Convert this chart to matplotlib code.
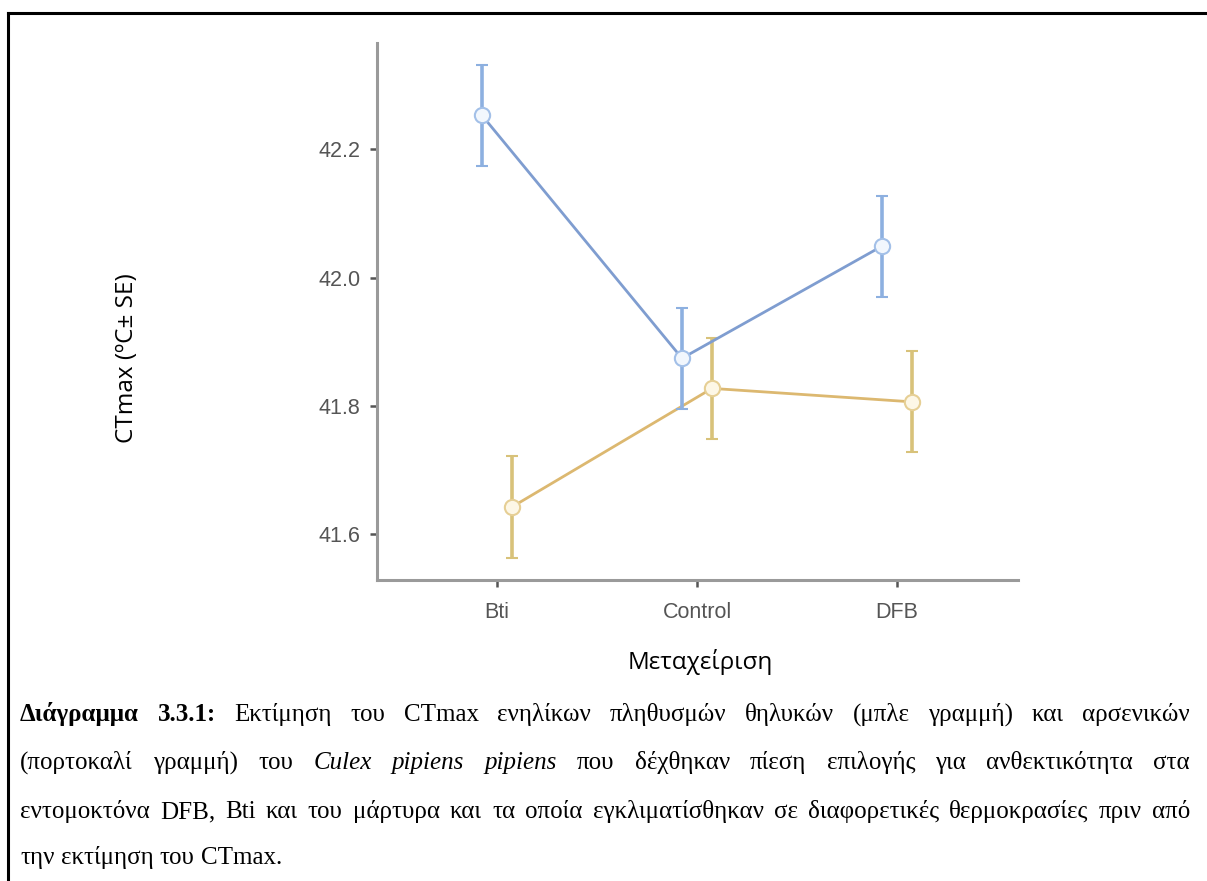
import matplotlib
matplotlib.use("Agg")
import matplotlib.pyplot as plt
import numpy as np

# Treatment groups and CTmax estimates (mean ± SE)
treatments = ["Bti", "Control", "DFB"]
female_mean = [42.253, 41.874, 42.049]
female_se = [0.079, 0.079, 0.079]
male_mean = [41.642, 41.827, 41.806]
male_se = [0.079, 0.079, 0.079]
y_ticks = [41.6, 41.8, 42.0, 42.2]

caption_lines = [
    [("Διάγραμμα", "bold"), ("3.3.1:", "bold"), ("Εκτίμηση", ""), ("του", ""), ("CTmax", ""),
     ("ενηλίκων", ""), ("πληθυσμών", ""), ("θηλυκών", ""), ("(μπλε", ""), ("γραμμή)", ""),
     ("και", ""), ("αρσενικών", "")],
    [("(πορτοκαλί", ""), ("γραμμή)", ""), ("του", ""), ("Culex", "italic"), ("pipiens", "italic"),
     ("pipiens", "italic"), ("που", ""), ("δέχθηκαν", ""), ("πίεση", ""), ("επιλογής", ""),
     ("για", ""), ("ανθεκτικότητα", ""), ("στα", "")],
    [("εντομοκτόνα", ""), ("DFB,", ""), ("Bti", ""), ("και", ""), ("του", ""), ("μάρτυρα", ""),
     ("και", ""), ("τα", ""), ("οποία", ""), ("εγκλιματίσθηκαν", ""), ("σε", ""),
     ("διαφορετικές", ""), ("θερμοκρασίες", ""), ("πριν", ""), ("από", "")],
    [("την", ""), ("εκτίμηση", ""), ("του", ""), ("CTmax.", "")],
]

W, H = 1207, 881
fig = plt.figure(figsize=(W / 100, H / 100), dpi=100)
fig.patch.set_facecolor("white")

# Outer frame (top and left rules)
fig.add_artist(plt.Line2D([8 / W, 1.0], [1 - 13 / H, 1 - 13 / H], color="black", lw=2.2))
fig.add_artist(plt.Line2D([8 / W, 8 / W], [1 - 13 / H, 0.0], color="black", lw=2.2))

ax = fig.add_axes([377 / W, 1 - 580 / H, (1018 - 377) / W, (580 - 43) / H])
x = np.arange(len(treatments))
dodge = 0.075

blue_line = "#7f9dd0"
blue_err = "#8db0e0"
gold_line = "#dcb870"
gold_err = "#d8c27a"

ax.errorbar(x - dodge, female_mean, yerr=female_se, color=blue_line, lw=2.0,
            ecolor=blue_err, elinewidth=2.6, capsize=4, capthick=2.6,
            marker="o", ms=11, mfc="#f2f7fd", mec="#a3c0e8", mew=1.5, zorder=3)
ax.errorbar(x + dodge, male_mean, yerr=male_se, color=gold_line, lw=2.0,
            ecolor=gold_err, elinewidth=2.6, capsize=4, capthick=2.6,
            marker="o", ms=11, mfc="#fdf7e6", mec="#e6cf95", mew=1.5, zorder=2)

ax.set_xlim(-0.60, 2.605)
ax.set_ylim(41.528, 42.366)
ax.set_xticks(x)
ax.set_xticklabels(treatments)
ax.set_yticks(y_ticks)
ax.set_yticklabels([f"{v:.1f}" for v in y_ticks])

for side in ("top", "right"):
    ax.spines[side].set_visible(False)
for side in ("left", "bottom"):
    ax.spines[side].set_color("#9a9a9a")
    ax.spines[side].set_linewidth(2.2)
ax.tick_params(axis="both", colors="#555555", length=5, width=1.8,
               labelsize=15.5, labelcolor="#555555")
ax.tick_params(axis="y", pad=7)
ax.tick_params(axis="x", pad=11)
for lab in ax.get_xticklabels() + ax.get_yticklabels():
    lab.set_family("Liberation Sans")

fig.text(127 / W, 1 - 358 / H, "CTmax (ºC± SE)", rotation=90, ha="center", va="center",
         fontsize=17.5, family=["Open Sans", "DejaVu Sans"], color="black")
fig.text(700 / W, 1 - 662 / H, "Μεταχείριση", ha="center", va="center",
         fontsize=17.5, family=["Open Sans", "DejaVu Sans"], color="black")

# Justified caption
renderer = fig.canvas.get_renderer()
left_px, right_px = 20, 1190
baselines = [721, 769, 818, 864]


def word_width(word, style, size):
    t = fig.text(0, 0, word, fontsize=size, family="Liberation Serif",
                 fontweight="bold" if style == "bold" else "normal",
                 fontstyle="italic" if style == "italic" else "normal")
    w = t.get_window_extent(renderer).width
    t.remove()
    return w


# choose a size so the longest line fits with ordinary word spacing
base = 18
widest = 0
for line in caption_lines:
    ws = sum(word_width(w, s, base) for w, s in line)
    ws += (len(line) - 1) * 0.2 * base * 100 / 72
    widest = max(widest, ws)
size = min(base, base * (right_px - left_px) / widest)

for i, line in enumerate(caption_lines):
    widths = [word_width(w, s, size) for w, s in line]
    last = i == len(caption_lines) - 1
    if last:
        gap = 0.25 * size * 100 / 72
    else:
        gap = (right_px - left_px - sum(widths)) / (len(line) - 1)
    xpos = left_px
    for (w, s), wd in zip(line, widths):
        fig.text(xpos / W, 1 - baselines[i] / H, w, fontsize=size, family="Liberation Serif",
                 fontweight="bold" if s == "bold" else "normal",
                 fontstyle="italic" if s == "italic" else "normal",
                 ha="left", va="baseline", color="black")
        xpos += wd + gap

fig.savefig("out.png", dpi=100, facecolor="white")
